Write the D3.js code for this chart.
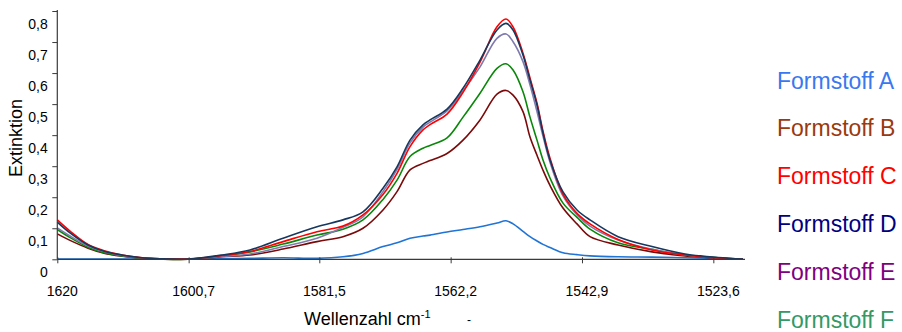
<!DOCTYPE html>
<html>
<head>
<meta charset="utf-8">
<script src="https://cdn.jsdelivr.net/npm/d3@7"></script>
<style>
  html, body { margin: 0; padding: 0; background: #ffffff; }
  svg { display: block; }
  text { font-family: "Liberation Sans", Arial, sans-serif; }
</style>
</head>
<body>
<svg id="chart" width="902" height="332"></svg>
<script>
// ---- data ----
const wavenumbers = [1620.00, 1618.13, 1615.49, 1612.99, 1610.49, 1607.85, 1604.91, 1600.79, 1595.80, 1591.68,
  1586.83, 1581.84, 1578.02, 1575.08, 1572.14, 1570.08, 1568.17, 1566.26, 1565.23, 1562.73,
  1560.38, 1557.88, 1555.39, 1554.06, 1553.03, 1551.57, 1550.54, 1549.51, 1548.63, 1547.60,
  1545.69, 1543.63, 1541.72, 1537.60, 1532.61, 1527.76, 1522.91, 1519.24];

const formstoffA = [0.001, 0.001, 0.001, 0.001, 0.001, 0.001, 0.001, 0.001, 0.002, 0.003,
  0.005, 0.003, 0.008, 0.019, 0.041, 0.053, 0.068, 0.075, 0.078, 0.088,
  0.096, 0.105, 0.117, 0.124, 0.114, 0.090, 0.073, 0.059, 0.048, 0.038,
  0.021, 0.015, 0.011, 0.008, 0.007, 0.005, 0.003, 0.001];
const formstoffB = [0.082, 0.061, 0.036, 0.019, 0.010, 0.004, 0.001, 0.000, 0.008, 0.014,
  0.033, 0.057, 0.073, 0.100, 0.159, 0.218, 0.288, 0.309, 0.318, 0.341,
  0.384, 0.449, 0.532, 0.544, 0.529, 0.476, 0.394, 0.335, 0.287, 0.238,
  0.165, 0.114, 0.073, 0.046, 0.024, 0.011, 0.004, 0.000];
const formstoffC = [0.127, 0.091, 0.048, 0.027, 0.014, 0.006, 0.002, 0.001, 0.012, 0.025,
  0.057, 0.089, 0.107, 0.143, 0.209, 0.277, 0.363, 0.417, 0.434, 0.468,
  0.538, 0.635, 0.749, 0.774, 0.749, 0.664, 0.584, 0.503, 0.413, 0.326,
  0.210, 0.148, 0.114, 0.064, 0.030, 0.014, 0.004, 0.000];
const formstoffD = [0.120, 0.085, 0.046, 0.025, 0.014, 0.006, 0.002, 0.001, 0.014, 0.030,
  0.068, 0.105, 0.127, 0.153, 0.229, 0.298, 0.384, 0.433, 0.449, 0.484,
  0.551, 0.642, 0.739, 0.760, 0.739, 0.658, 0.578, 0.497, 0.407, 0.320,
  0.217, 0.159, 0.127, 0.073, 0.041, 0.017, 0.006, 0.001];
const formstoffE = [0.101, 0.075, 0.043, 0.024, 0.012, 0.005, 0.002, 0.001, 0.009, 0.017,
  0.041, 0.068, 0.103, 0.137, 0.218, 0.290, 0.375, 0.426, 0.442, 0.478,
  0.542, 0.620, 0.712, 0.726, 0.701, 0.637, 0.562, 0.476, 0.397, 0.313,
  0.204, 0.143, 0.107, 0.062, 0.032, 0.014, 0.004, 0.000];
const formstoffF = [0.096, 0.070, 0.039, 0.020, 0.011, 0.004, 0.001, 0.000, 0.011, 0.024,
  0.049, 0.078, 0.097, 0.127, 0.193, 0.255, 0.331, 0.358, 0.367, 0.391,
  0.458, 0.535, 0.615, 0.630, 0.610, 0.540, 0.458, 0.384, 0.320, 0.262,
  0.181, 0.135, 0.097, 0.053, 0.032, 0.014, 0.005, 0.000];

const seriesNames  = ["Formstoff A", "Formstoff B", "Formstoff C", "Formstoff D", "Formstoff E", "Formstoff F"];
const seriesValues = [formstoffA, formstoffB, formstoffC, formstoffD, formstoffE, formstoffF];
const lineColors   = ["#1f74d6", "#7a0a0a", "#ff0000", "#17375e", "#7f7aae", "#0a870a"];
const legendColors = ["#3a78f0", "#9a3a0e", "#ff0000", "#000080", "#800080", "#339966"];
const drawOrder    = [0, 1, 5, 4, 2, 3];

const xTickValues = [1620, 1600.7, 1581.5, 1562.2, 1542.9, 1523.6];
const yTickValues = [0, 0.1, 0.2, 0.3, 0.4, 0.5, 0.6, 0.7, 0.8];
const xDomain = [1620, 1519.24];
const yDomain = [0, 0.8];

// ---- layout ----
const svg = d3.select("#chart");
const x = d3.scaleLinear().domain(xDomain).range([57.3, 743]);
const y = d3.scaleLinear().domain(yDomain).range([259.3, 11]);
const fmt = d => d === 0 ? "0" : String(d).replace(".", ",");
const axisColor = "#3a3a3a";

// lines
const line = d3.line()
  .x((d, i) => x(wavenumbers[i]))
  .y(d => y(d))
  .curve(d3.curveCatmullRom.alpha(0.5));

const gLines = svg.append("g");
drawOrder.forEach(k => {
  gLines.append("path")
    .datum(seriesValues[k])
    .attr("fill", "none")
    .attr("stroke", lineColors[k])
    .attr("stroke-width", 1.6)
    .attr("stroke-linejoin", "round")
    .attr("d", line);
});

// x axis
const xAxis = d3.axisBottom(x).tickValues(xTickValues).tickSize(4).tickSizeOuter(0).tickFormat(fmt);
const gx = svg.append("g").attr("transform", `translate(0,${y(0)})`).call(xAxis);
gx.select(".domain").attr("stroke", axisColor).attr("stroke-width", 1.2)
  .attr("d", `M${x(xDomain[0])},0H${x(xDomain[1]) + 2}`);
gx.selectAll(".tick line").attr("stroke", axisColor).attr("y1", -2).attr("y2", 4);
gx.selectAll(".tick text").attr("fill", "#000").attr("font-size", 14)
  .attr("x", 4.5).attr("y", 0).attr("dy", "2.6em").attr("font-family", "Liberation Sans, Arial, sans-serif");

// y axis
const yAxis = d3.axisLeft(y).tickValues(yTickValues).tickSize(5).tickSizeOuter(0).tickFormat(fmt);
const gy = svg.append("g").attr("transform", `translate(${x(xDomain[0])},0)`).call(yAxis);
gy.select(".domain").attr("stroke", axisColor).attr("stroke-width", 1.2)
  .attr("d", `M0,${y(0)}V${y(0.8) - 1}`);
gy.selectAll(".tick line").attr("stroke", axisColor);
gy.selectAll(".tick text").attr("fill", "#000").attr("font-size", 14)
  .attr("x", -9.5).attr("dy", "1.25em").attr("font-family", "Liberation Sans, Arial, sans-serif");

// axis titles
const xt = svg.append("text").attr("x", 304).attr("y", 325).attr("font-size", 18).attr("fill", "#000");
xt.append("tspan").text("Wellenzahl cm");
xt.append("tspan").attr("dy", -7).attr("font-size", 11).text("-1");
svg.append("text").attr("x", 469).attr("y", 324).attr("font-size", 12).attr("text-anchor", "middle").text("-");

svg.append("text")
  .attr("transform", "translate(22,138) rotate(-90)")
  .attr("text-anchor", "middle")
  .attr("font-size", 18)
  .attr("fill", "#000")
  .text("Extinktion");

// legend
const gLeg = svg.append("g");
seriesNames.forEach((name, i) => {
  gLeg.append("text")
    .attr("x", 777)
    .attr("y", 88.5 + i * 47.9)
    .attr("font-size", 23)
    .attr("fill", legendColors[i])
    .text(name);
});
</script>
</body>
</html>
